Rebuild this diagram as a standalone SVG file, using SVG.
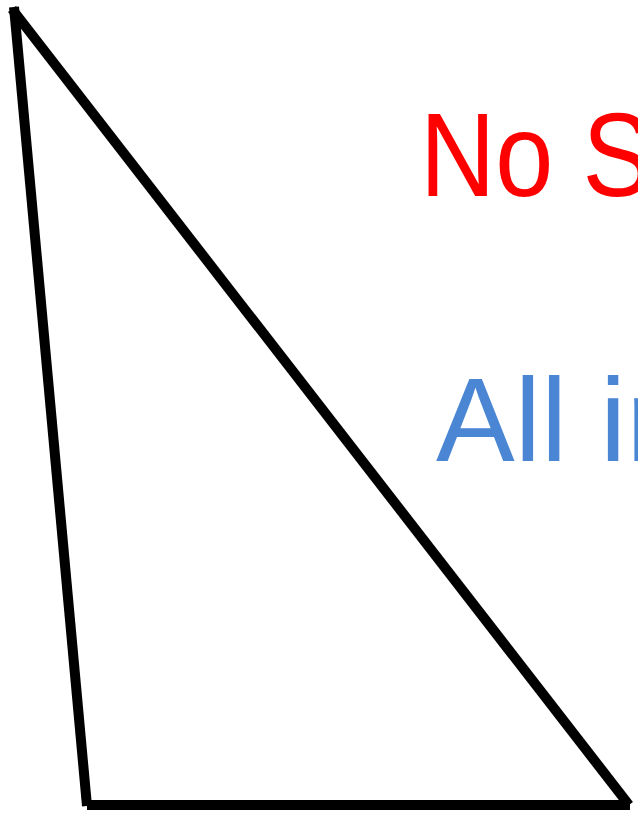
<svg xmlns="http://www.w3.org/2000/svg" width="638" height="814" viewBox="0 0 638 814">
<style>
.edge{stroke:#000;stroke-width:10;fill:none;stroke-linecap:butt}
.lbl{font-family:"Liberation Sans",Arial,sans-serif;font-size:118px}
</style>
<rect width="638" height="814" fill="#fff"/>
<g id="triangle">
<line class="edge" x1="14" y1="7" x2="87" y2="806"/>
<line class="edge" x1="12" y1="9" x2="629" y2="805"/>
<line class="edge" x1="87" y1="805" x2="630" y2="805"/>
</g>
<g id="labels">
<text class="lbl" x="420" y="196" fill="#ff0000" textLength="232" lengthAdjust="spacingAndGlyphs">No S</text>
<text class="lbl" x="436" y="461" fill="#4a86d4">All in</text>
</g>
</svg>
